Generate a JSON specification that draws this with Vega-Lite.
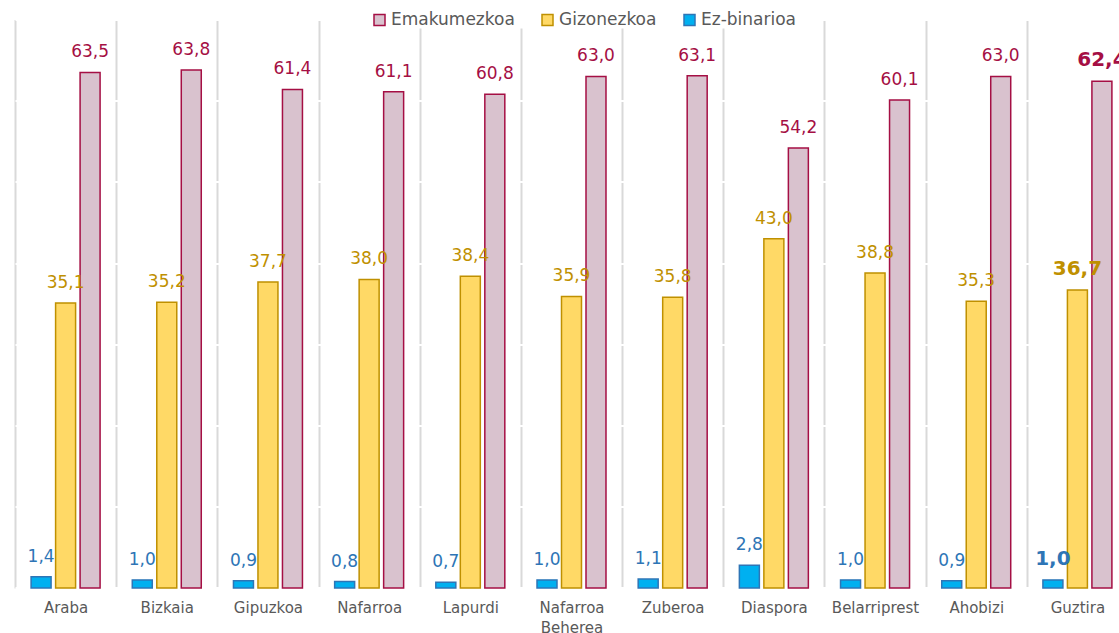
{
  "$schema": "https://vega.github.io/schema/vega-lite/v6.json",
  "autosize": {"type": "none"},
  "width": 1104,
  "height": 568.4,
  "padding": {"left": 15, "top": 19.6, "right": 0, "bottom": 45},
  "background": "white",
  "config": {
    "view": {"stroke": null},
    "font": "DejaVu Sans",
    "locale": {"number": {"decimal": ",", "thousands": ".", "grouping": [3], "currency": ["", " €"]}}
  },
  "data": {
    "values": [
      {"category": "Araba", "series": "Ez-binarioa", "value": 1.4},
      {"category": "Araba", "series": "Gizonezkoa", "value": 35.1},
      {"category": "Araba", "series": "Emakumezkoa", "value": 63.5},
      {"category": "Bizkaia", "series": "Ez-binarioa", "value": 1.0},
      {"category": "Bizkaia", "series": "Gizonezkoa", "value": 35.2},
      {"category": "Bizkaia", "series": "Emakumezkoa", "value": 63.8},
      {"category": "Gipuzkoa", "series": "Ez-binarioa", "value": 0.9},
      {"category": "Gipuzkoa", "series": "Gizonezkoa", "value": 37.7},
      {"category": "Gipuzkoa", "series": "Emakumezkoa", "value": 61.4},
      {"category": "Nafarroa", "series": "Ez-binarioa", "value": 0.8},
      {"category": "Nafarroa", "series": "Gizonezkoa", "value": 38.0},
      {"category": "Nafarroa", "series": "Emakumezkoa", "value": 61.1},
      {"category": "Lapurdi", "series": "Ez-binarioa", "value": 0.7},
      {"category": "Lapurdi", "series": "Gizonezkoa", "value": 38.4},
      {"category": "Lapurdi", "series": "Emakumezkoa", "value": 60.8},
      {"category": "Nafarroa Beherea", "series": "Ez-binarioa", "value": 1.0},
      {"category": "Nafarroa Beherea", "series": "Gizonezkoa", "value": 35.9},
      {"category": "Nafarroa Beherea", "series": "Emakumezkoa", "value": 63.0},
      {"category": "Zuberoa", "series": "Ez-binarioa", "value": 1.1},
      {"category": "Zuberoa", "series": "Gizonezkoa", "value": 35.8},
      {"category": "Zuberoa", "series": "Emakumezkoa", "value": 63.1},
      {"category": "Diaspora", "series": "Ez-binarioa", "value": 2.8},
      {"category": "Diaspora", "series": "Gizonezkoa", "value": 43.0},
      {"category": "Diaspora", "series": "Emakumezkoa", "value": 54.2},
      {"category": "Belarriprest", "series": "Ez-binarioa", "value": 1.0},
      {"category": "Belarriprest", "series": "Gizonezkoa", "value": 38.8},
      {"category": "Belarriprest", "series": "Emakumezkoa", "value": 60.1},
      {"category": "Ahobizi", "series": "Ez-binarioa", "value": 0.9},
      {"category": "Ahobizi", "series": "Gizonezkoa", "value": 35.3},
      {"category": "Ahobizi", "series": "Emakumezkoa", "value": 63.0},
      {"category": "Guztira", "series": "Ez-binarioa", "value": 1.0},
      {"category": "Guztira", "series": "Gizonezkoa", "value": 36.7},
      {"category": "Guztira", "series": "Emakumezkoa", "value": 62.4}
    ]
  },
  "encoding": {
    "x": {
      "field": "category", "type": "nominal", "sort": null,
      "scale": {"range": [0, 1113], "paddingInner": 0, "paddingOuter": 0},
      "axis": {
        "title": null, "domain": false, "ticks": false, "tickBand": "extent",
        "grid": true, "gridColor": "#D9D9D9", "gridWidth": 2,
        "labelAngle": 0, "labelFontSize": 15, "labelColor": "#595959",
        "labelPadding": 12, "labelLineHeight": 20,
        "labelExpr": "split(datum.label, ' ')"
      }
    },
    "xOffset": {
      "field": "series", "type": "nominal",
      "scale": {"domain": ["Ez-binarioa", "Gizonezkoa", "Emakumezkoa"], "paddingInner": 0.184, "paddingOuter": 0.657}
    },
    "y": {
      "field": "value", "type": "quantitative",
      "scale": {"domain": [0, 70], "nice": false},
      "axis": {
        "title": null, "labels": false, "ticks": false, "domain": false,
        "values": [0, 10, 20, 30, 40, 50, 60, 70],
        "grid": true, "gridColor": "white", "gridWidth": 2
      }
    }
  },
  "layer": [
    {
      "mark": {"type": "bar", "strokeWidth": 1.5},
      "encoding": {
        "fill": {
          "field": "series", "type": "nominal",
          "scale": {"domain": ["Emakumezkoa", "Gizonezkoa", "Ez-binarioa"], "range": ["#D9C2CE", "#FFD966", "#00B0F0"]},
          "legend": {
            "title": null, "orient": "none", "direction": "horizontal",
            "legendX": 356, "legendY": -8,
            "symbolType": "square", "symbolSize": 121, "symbolStrokeWidth": 1.5,
            "labelFontSize": 17, "labelColor": "#595959", "labelOffset": 3,
            "columnPadding": 24, "fillColor": "white", "padding": 0
          }
        },
        "stroke": {
          "field": "series", "type": "nominal",
          "scale": {"domain": ["Emakumezkoa", "Gizonezkoa", "Ez-binarioa"], "range": ["#A50F44", "#BF9000", "#2E75B6"]},
          "legend": null
        }
      }
    },
    {
      "transform": [{"filter": "datum.category != 'Guztira'"}],
      "mark": {"type": "text", "baseline": "alphabetic", "dy": -15, "fontSize": 17},
      "encoding": {
        "text": {"field": "value", "type": "quantitative", "format": ".1f"},
        "color": {
          "condition": [
            {"test": "datum.series == 'Emakumezkoa'", "value": "#A50F44"},
            {"test": "datum.series == 'Gizonezkoa'", "value": "#BF9000"}
          ],
          "value": "#2E75B6"
        }
      }
    },
    {
      "transform": [{"filter": "datum.category == 'Guztira'"}],
      "mark": {"type": "text", "baseline": "alphabetic", "dy": -15, "fontSize": 20, "fontWeight": "bold"},
      "encoding": {
        "text": {"field": "value", "type": "quantitative", "format": ".1f"},
        "color": {
          "condition": [
            {"test": "datum.series == 'Emakumezkoa'", "value": "#A50F44"},
            {"test": "datum.series == 'Gizonezkoa'", "value": "#BF9000"}
          ],
          "value": "#2E75B6"
        }
      }
    }
  ]
}
